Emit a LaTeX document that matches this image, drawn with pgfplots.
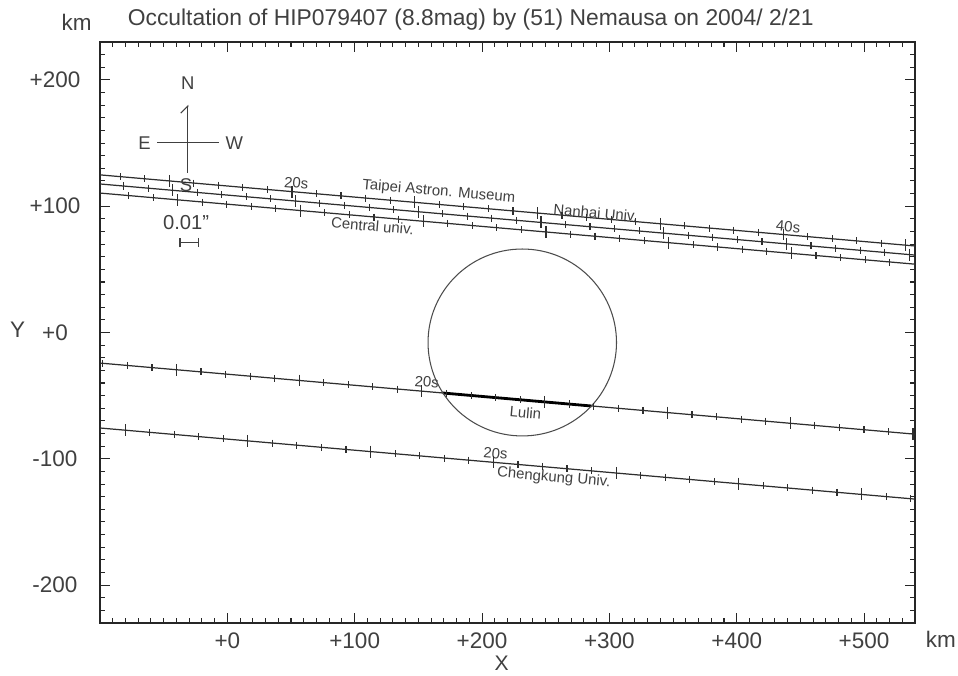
\documentclass[border=0pt]{standalone}
\usepackage{pgfplots}
\pgfplotsset{compat=1.18}
\usepackage{fontspec}
\setmainfont{Liberation Sans}
\usetikzlibrary{arrows.meta}
\definecolor{ink}{gray}{0.25}
\definecolor{chord}{gray}{0.18}
\tikzset{
  lab/.style={font=\fontsize{8.5}{10}\selectfont, text=ink, rotate=-5, inner sep=0pt},
  comp/.style={font=\fontsize{10.5}{12}\selectfont, text=ink, inner sep=0pt},
  tk/.style={chord, only marks, mark=|, mark size=2pt, mark options={line width=0.65pt}},
  tkl/.style={chord, only marks, mark=|, mark size=3.4pt, mark options={line width=0.65pt}},
  ln/.style={chord, line width=0.7pt},
}

\begin{document}
\begin{tikzpicture}
\useasboundingbox (-2cm,-1.04cm) rectangle (17.16cm,12.46cm);
\begin{axis}[
  width=16.3cm, height=11.62cm, scale only axis,
  xmin=-100, xmax=540, ymin=-230, ymax=230,
  clip=false,
  tick align=inside,
  xtick={0,100,...,500},
  xticklabels={+0,+100,+200,+300,+400,+500},
  ytick={-200,-100,0,100,200},
  yticklabels={-200,-100,+0,+100,+200},
  minor xtick={-90,-80,...,530},
  minor ytick={-220,-210,...,220},
  major tick length=0.2cm, minor tick length=0.1cm,
  axis line style={line width=1.3pt, black!85},
  every tick/.style={black!85, line width=0.6pt},
  tick label style={font=\fontsize{12.8}{15}\selectfont, text=ink},
  xticklabel style={anchor=center, yshift=-0.35cm, inner sep=0pt},
  yticklabel style={anchor=center, xshift=-0.9cm},
]

% Taipei Astron. Museum
\addplot[ln] coordinates {(-100,124.8) (540,68.5)};
\addplot[tk] coordinates {
 (-84.2,123.4) (-64.9,121.7) (-45.6,120.0) (-26.4,118.3) (-7.1,116.6)
 (12.2,114.9) (31.5,113.2) (50.8,111.5) (70.0,109.8) (89.3,108.1)
 (108.6,106.4) (127.9,104.7) (147.2,103.0) (166.4,101.3) (185.7,99.6)
 (205.0,97.9) (224.3,96.2) (243.6,94.5) (262.8,92.9) (282.1,91.2)
 (301.4,89.5) (320.7,87.8) (340.0,86.1) (359.2,84.4) (378.5,82.7)
 (397.8,81.0) (417.1,79.3) (436.4,77.6) (455.6,75.9) (474.9,74.2)
 (494.2,72.5) (513.5,70.8) (532.8,69.1)};
\addplot[tkl] coordinates {(-45.6,120.0) (50.8,111.5) (147.2,103.0)
 (243.6,94.5) (340.0,86.1) (436.4,77.6) (532.8,69.1)};

% Nanhai Univ.
\addplot[ln] coordinates {(-100,117.6) (540,61.3)};
\addplot[tk] coordinates {
 (-81.5,116.0) (-62.2,114.3) (-42.9,112.6) (-23.7,110.9) (-4.4,109.2)
 (14.9,107.5) (34.2,105.8) (53.5,104.1) (72.7,102.4) (92.0,100.7)
 (111.3,99.0) (130.6,97.3) (149.9,95.6) (169.1,93.9) (188.4,92.2)
 (207.7,90.5) (227.0,88.8) (246.3,87.2) (265.5,85.5) (284.8,83.8)
 (304.1,82.1) (323.4,80.4) (342.7,78.7) (361.9,77.0) (381.2,75.3)
 (400.5,73.6) (419.8,71.9) (439.1,70.2) (458.3,68.5) (477.6,66.8)
 (496.9,65.1) (516.2,63.4) (535.5,61.7)};
\addplot[tkl] coordinates {(-42.9,112.6) (53.5,104.1) (149.9,95.6)
 (246.3,87.2) (342.7,78.7) (439.1,70.2) (535.5,61.7)};

% Central univ.
\addplot[ln] coordinates {(-100,110.4) (540,54.1)};
\addplot[tk] coordinates {
 (-77.6,108.4) (-58.3,106.7) (-39.0,105.0) (-19.8,103.3) (-0.5,101.6)
 (18.8,99.9) (38.1,98.2) (57.4,96.5) (76.6,94.8) (95.9,93.1)
 (115.2,91.4) (134.5,89.7) (153.8,88.0) (173.0,86.3) (192.3,84.6)
 (211.6,82.9) (230.9,81.2) (250.2,79.6) (269.4,77.9) (288.7,76.2)
 (308.0,74.5) (327.3,72.8) (346.6,71.1) (365.8,69.4) (385.1,67.7)
 (404.4,66.0) (423.7,64.3) (443.0,62.6) (462.2,60.9) (481.5,59.2)
 (500.8,57.5) (520.1,55.8) (539.4,54.1)};
\addplot[tkl] coordinates {(-39.0,105.0) (57.4,96.5) (153.8,88.0)
 (250.2,79.6) (346.6,71.1) (443.0,62.6) (539.4,54.1)};

% Lulin
\addplot[ln] coordinates {(-100,-24.2) (540,-80.5)};
\addplot[black, line width=1.6pt] coordinates {(169.3,-47.9) (285.9,-58.2)};
\addplot[tk] coordinates {
 (-97.8,-24.4) (-78.5,-26.1) (-59.2,-27.8) (-40.0,-29.5) (-20.7,-31.2)
 (-1.4,-32.9) (17.9,-34.6) (37.2,-36.3) (56.4,-38.0) (75.7,-39.7)
 (95.0,-41.4) (114.3,-43.1) (133.6,-44.8) (152.8,-46.5) (172.1,-48.2)
 (191.4,-49.9) (210.7,-51.6) (230.0,-53.2) (249.2,-54.9) (268.5,-56.6)
 (287.8,-58.3) (307.1,-60.0) (326.4,-61.7) (345.6,-63.4) (364.9,-65.1)
 (384.2,-66.8) (403.5,-68.5) (422.8,-70.2) (442.0,-71.9) (461.3,-73.6)
 (480.6,-75.3) (499.9,-77.0) (519.2,-78.7) (538.4,-80.4)};
\addplot[tkl] coordinates {(-40.0,-29.5) (56.4,-38.0) (152.8,-46.5)
 (249.2,-54.9) (345.6,-63.4) (442.0,-71.9) (538.4,-80.4)};

% Chengkung Univ.
\addplot[ln] coordinates {(-100,-75.6) (540,-131.9)};
\addplot[tk] coordinates {
 (-99.6,-75.6) (-80.3,-77.3) (-61.0,-79.0) (-41.8,-80.7) (-22.5,-82.4)
 (-3.2,-84.1) (16.1,-85.8) (35.4,-87.5) (54.6,-89.2) (73.9,-90.9)
 (93.2,-92.6) (112.5,-94.3) (131.8,-96.0) (151.0,-97.7) (170.3,-99.4)
 (189.6,-101.1) (208.9,-102.8) (228.2,-104.4) (247.4,-106.1) (266.7,-107.8)
 (286.0,-109.5) (305.3,-111.2) (324.6,-112.9) (343.8,-114.6) (363.1,-116.3)
 (382.4,-118.0) (401.7,-119.7) (421.0,-121.4) (440.2,-123.1) (459.5,-124.8)
 (478.8,-126.5) (498.1,-128.2) (517.4,-129.9) (536.6,-131.6)};
\addplot[tkl] coordinates {(-80.3,-77.3) (16.1,-85.8) (112.5,-94.3)
 (208.9,-102.8) (305.3,-111.2) (401.7,-119.7) (498.1,-128.2)};

% asteroid outline
\draw[black!70, line width=0.6pt] (axis cs:231.6,-7.9) ellipse [x radius=74, y radius=74];

% chord labels
\node[lab] at (axis cs:54.1,118.4) {20s};
\node[lab] at (axis cs:166.1,111.3) {Taipei Astron. Museum};
\node[lab] at (axis cs:114.0,84.4) {Central univ.};
\node[lab] at (axis cs:289.2,94.7) {Nanhai Univ.};
\node[lab] at (axis cs:440.4,83.6) {40s};
\node[lab] at (axis cs:156.7,-39.2) {20s};
\node[lab] at (axis cs:234.1,-63.5) {Lulin};
\node[lab] at (axis cs:210.6,-95.7) {20s};
\node[lab] at (axis cs:256.3,-115.2) {Chengkung Univ.};

% compass and scale
\draw[ink, line width=0.6pt, -{Straight Barb[left,length=4pt]}] (axis cs:-31.1,126.3) -- (axis cs:-31.1,180.2);
\draw[ink, line width=0.6pt] (axis cs:-54.9,150.3) -- (axis cs:-6.3,150.3);
\node[comp] at (axis cs:-31.1,197.2) {N};
\node[comp] at (axis cs:-65.0,149.8) {E};
\node[comp] at (axis cs:5.5,149.8) {W};
\node[comp] at (axis cs:-32.4,116.8) {S};
\node[comp, font=\fontsize{11.5}{13}\selectfont] at (axis cs:-32.4,86.7) {0.01\symbol{34}};
\draw[ink, line width=0.6pt, |-|] (axis cs:-37.6,71.1) -- (axis cs:-21.9,71.1);

% titles
\node[anchor=west, inner sep=0pt, text=ink, font=\fontsize{13}{15}\selectfont] at (axis cs:-78.4,247.5)
  {Occultation of HIP079407 (8.8mag) by (51) Nemausa on 2004/ 2/21};
\node[text=ink, font=\fontsize{12.8}{15}\selectfont] at (axis cs:-118.3,245.9) {km};
\node[text=ink, font=\fontsize{12.8}{15}\selectfont] at (axis cs:560.3,-242.7) {km};
\node[text=ink, inner sep=0pt, font=\fontsize{12}{14}\selectfont] at (axis cs:215.5,-262) {X};
\node[text=ink, font=\fontsize{12.8}{15}\selectfont] at (axis cs:-164.6,2.0) {Y};
\end{axis}
\end{tikzpicture}
\end{document}
